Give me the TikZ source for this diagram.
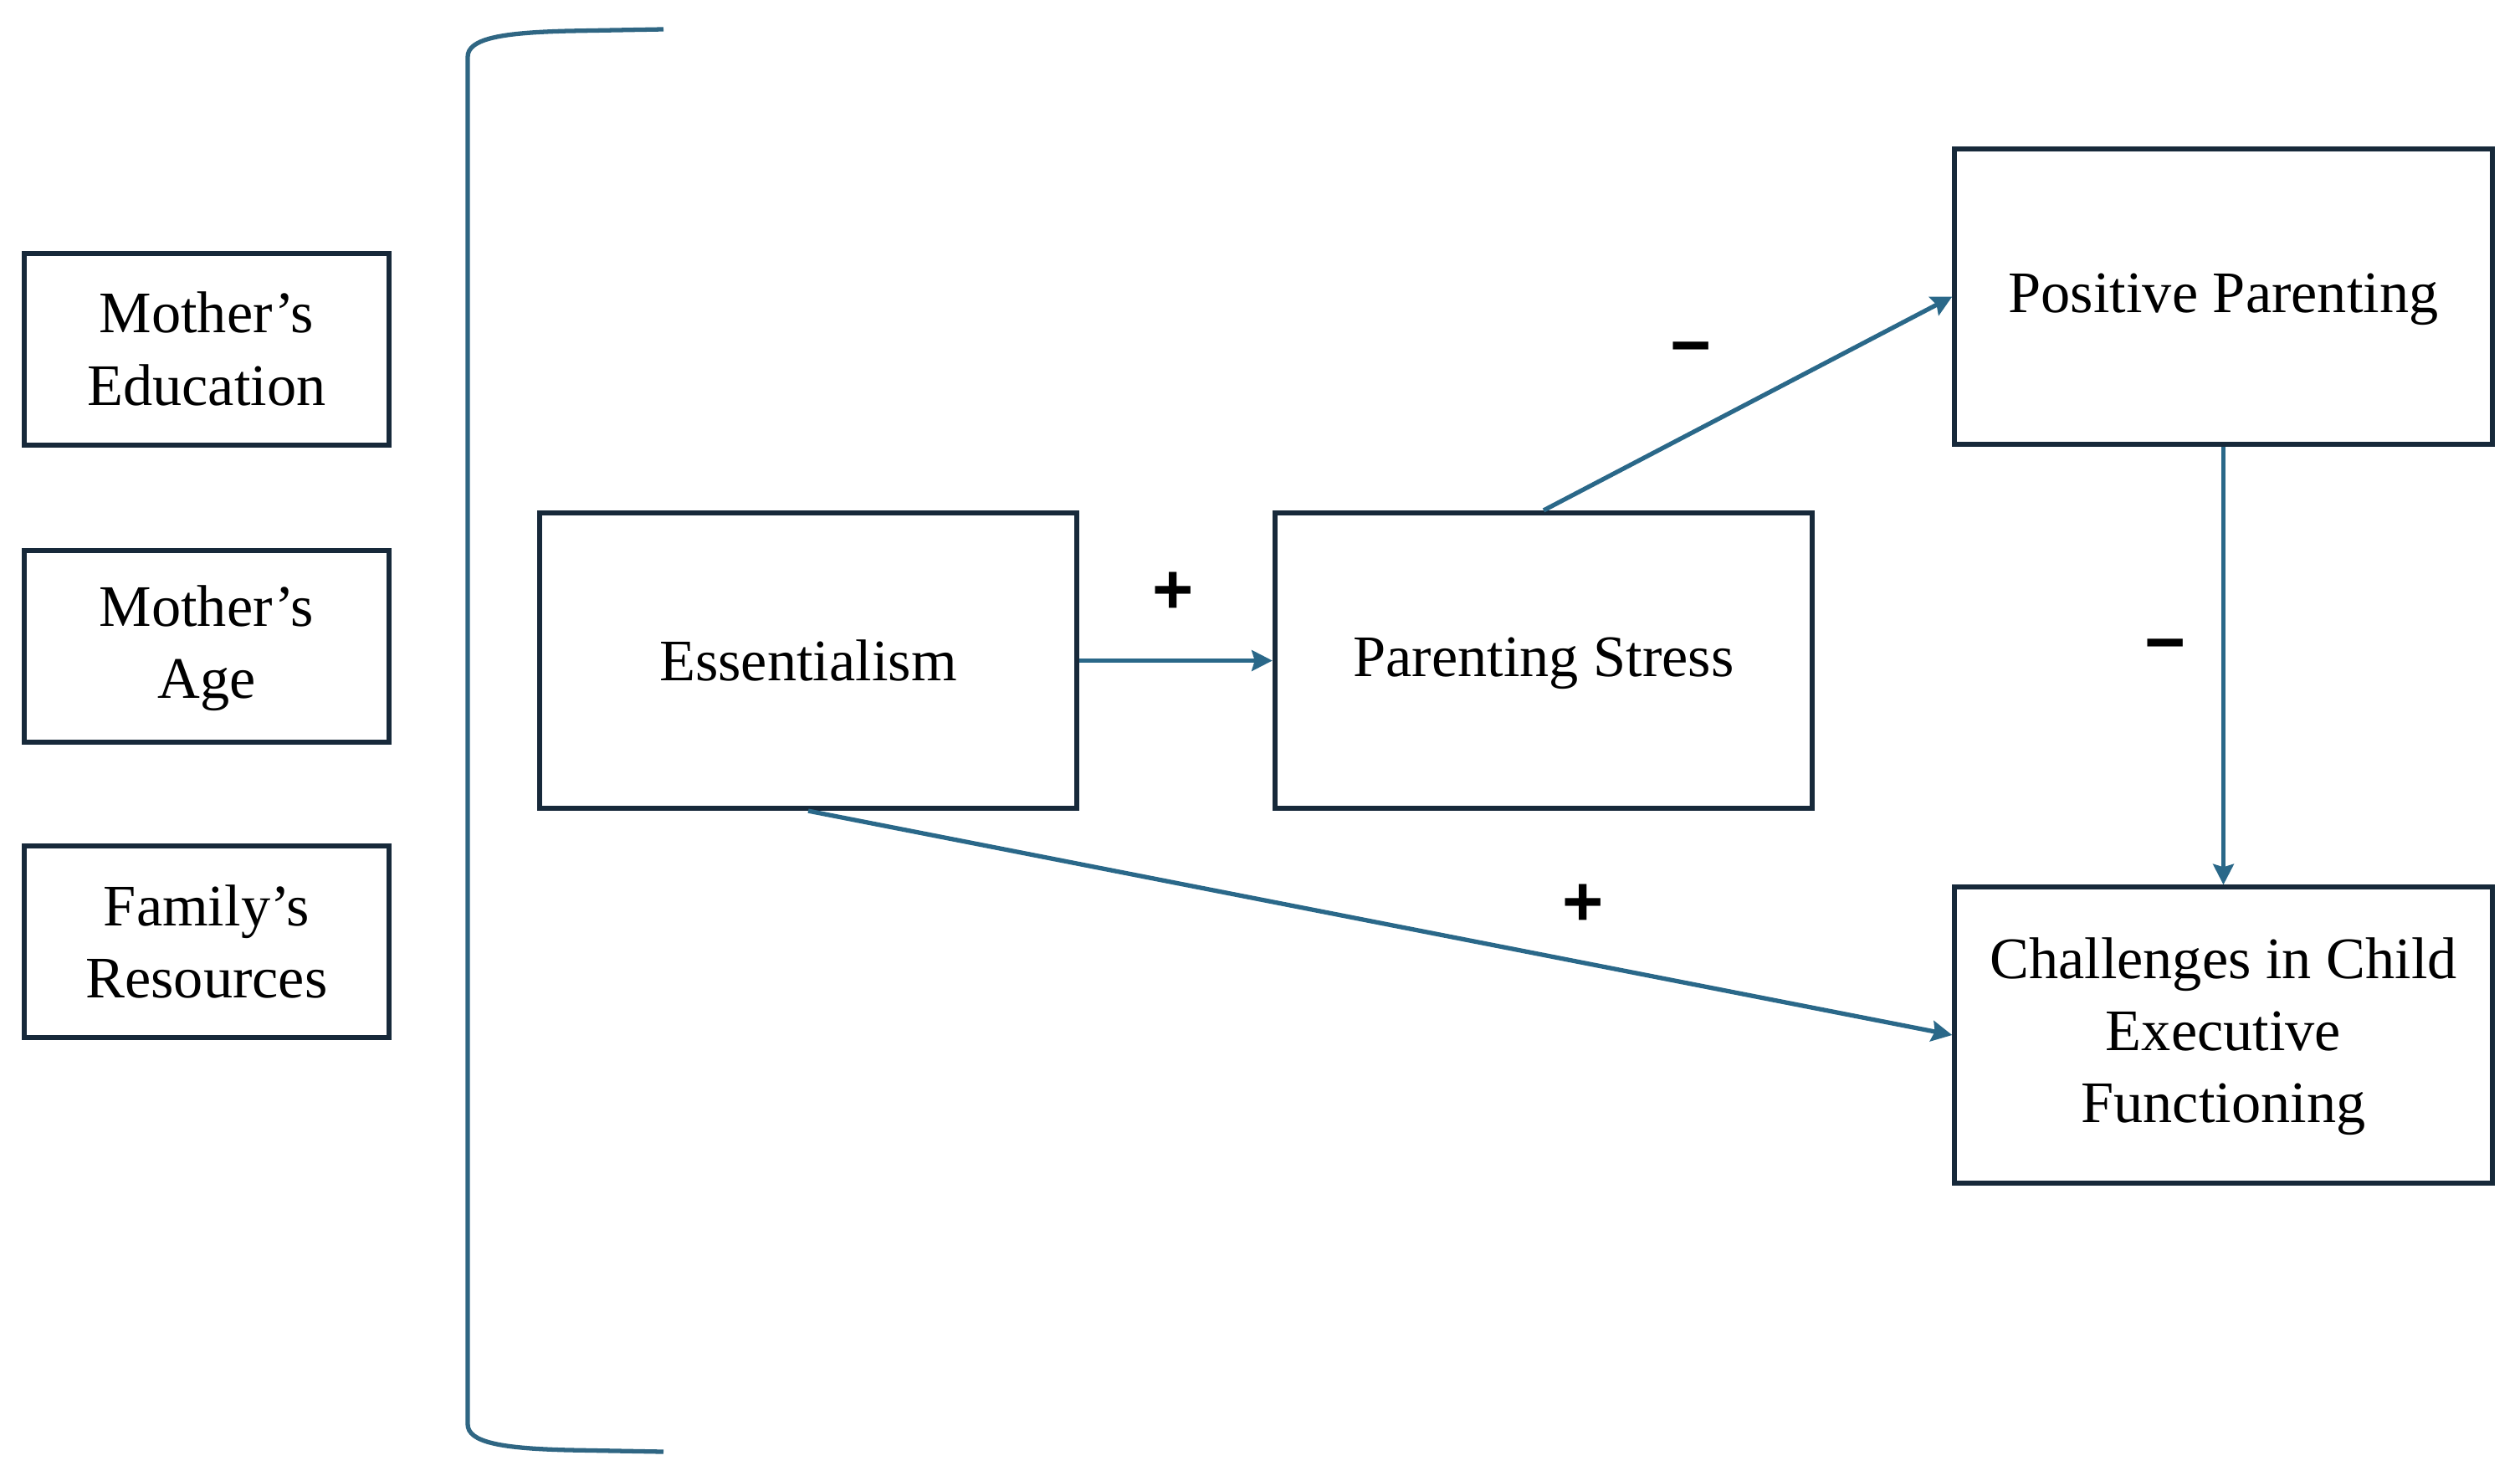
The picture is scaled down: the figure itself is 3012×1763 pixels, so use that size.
\documentclass[tikz,border=0pt]{standalone}
\usepackage{fontspec}
\setmainfont{Liberation Serif}
\newfontfamily\signfont{Liberation Sans}
\usetikzlibrary{arrows.meta}
\definecolor{boxline}{HTML}{17293A}
\definecolor{arrowcol}{HTML}{2A6889}
\definecolor{bracketcol}{HTML}{2F6683}
\newcommand\mystrut{\rule[-1.6pt]{0pt}{16.6pt}}
\tikzset{
  boxnode/.style={draw=boxline, line width=1.7pt, rectangle, align=center,
    font=\fontsize{20}{24.5}\selectfont, inner sep=0pt},
  smallbox/.style={boxnode, minimum width=4.36cm, minimum height=2.28cm},
  bigbox/.style={boxnode, minimum width=6.42cm, minimum height=3.53cm},
  conn/.style={draw=arrowcol, line width=1.5pt, -{Stealth[length=7pt,width=7pt,inset=1pt]}},
  signlabel/.style={font=\signfont\bfseries\fontsize{24}{24}\selectfont, text=black, inner sep=0pt}
}
\begin{document}
\begin{tikzpicture}[x=0.01cm,y=-0.01cm]
\useasboundingbox[fill=white] (0,0) rectangle (3012,1763);
% covariates
\node[smallbox] (me) at (247,417.5) {\mystrut Mother’s\\Education\mystrut};
\node[smallbox] (ma) at (247,772.5) {\mystrut Mother’s\\Age\mystrut};
\node[smallbox] (fr) at (247,1125.5) {\mystrut Family’s\\Resources\mystrut};
% bracket
\draw[bracketcol, line width=1.5pt]
  (793,35) -- (680,37) .. controls (600,39) and (559,46) .. (559,68)
  -- (559,1702) .. controls (559,1724) and (600,1731) .. (680,1733) -- (793,1735);
% main nodes
\node[bigbox] (ess) at (966,789.5) {\mystrut Essentialism};
\node[bigbox] (ps) at (1845,789.5) {\mystrut Parenting Stress};
\node[bigbox] (pp) at (2657.5,354.5) {\mystrut Positive Parenting};
\node[bigbox] (ch) at (2657.5,1237) {\mystrut Challenges in Child\\Executive\\Functioning\mystrut};
% connectors
\draw[conn] (ess.east) -- (ps.west);
\draw[conn] (ps.north) -- (pp.west);
\draw[conn] (pp.south) -- (ch.north);
\draw[conn] (ess.south) -- (ch.west);
% signs
\node[signlabel] (s1) at (1402,709) {+};
\node[signlabel] (s2) at (2021,425) {−};
\node[signlabel] (s3) at (2588,780) {−};
\node[signlabel] (s4) at (1892,1082) {+};
\end{tikzpicture}
\end{document}
